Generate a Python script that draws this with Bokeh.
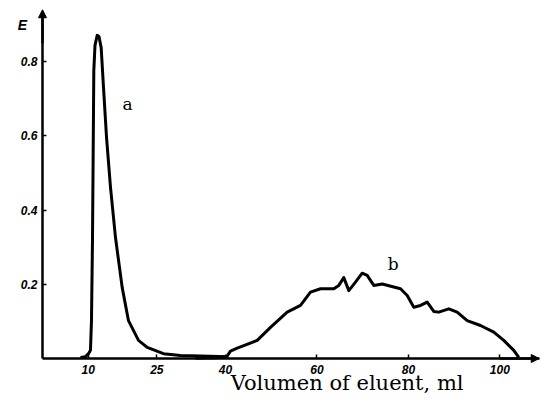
from bokeh.plotting import figure
from bokeh.models import Range1d, FixedTicker, Label, Arrow, NormalHead
from bokeh.embed import file_html
from bokeh.resources import INLINE

# Curve a (elution volume in ml, extinction E)
a_ml = [8.31, 9.40, 10.06, 10.49, 10.71, 10.93, 11.08, 11.22, 11.48, 11.96, 12.35,
        12.83, 13.34, 14.0, 14.87, 15.96, 17.43, 18.8, 20.99, 22.89, 26.45, 30.17,
        34.54, 40.66]
a_E = [0.003, 0.005, 0.013, 0.022, 0.102, 0.318, 0.553, 0.776, 0.844, 0.871, 0.868,
       0.838, 0.730, 0.596, 0.461, 0.326, 0.191, 0.102, 0.049, 0.030, 0.013, 0.008,
       0.007, 0.005]

# Curve b
b_ml = [33.45, 37.82, 40.23, 41.10, 42.57, 44.01, 46.94, 49.85, 53.5, 56.41, 58.59,
        60.78, 63.69, 64.78, 65.87, 66.97, 68.43, 69.9, 70.99, 72.43, 74.27, 78.27,
        79.74, 81.18, 82.64, 84.11, 85.55, 86.64, 88.83, 90.66, 92.85, 95.76, 98.67,
        100.85, 103.04, 104.13]
b_E = [0.001, 0.002, 0.004, 0.020, 0.028, 0.035, 0.049, 0.084, 0.125, 0.143, 0.179,
       0.188, 0.188, 0.197, 0.218, 0.183, 0.206, 0.230, 0.224, 0.197, 0.201, 0.188,
       0.170, 0.138, 0.143, 0.152, 0.127, 0.125, 0.134, 0.125, 0.102, 0.089, 0.071,
       0.049, 0.022, 0.003]

x_ticks = [10, 25, 40, 60, 80, 100]
y_ticks = [0.2, 0.4, 0.6, 0.8]

p = figure(width=540, height=394, output_backend="svg", toolbar_location=None,
           x_range=Range1d(-9.18, 108.88), y_range=Range1d(-0.097, 0.965),
           min_border=0, outline_line_color=None)
p.grid.visible = False
p.background_fill_color = "white"

for ax in (p.xaxis, p.yaxis):
    ax.fixed_location = 0
    ax.axis_line_width = 2.5
    ax.axis_line_color = "black"
    ax.major_tick_in = 4
    ax.major_tick_out = 0
    ax.major_tick_line_width = 1.5
    ax.major_tick_line_color = "black"
    ax.minor_tick_line_color = None
    ax.major_label_text_font = "Liberation Sans"
    ax.major_label_text_font_style = "bold italic"
    ax.major_label_text_font_size = "12px"
    ax.major_label_text_color = "black"

p.xaxis.bounds = (0, 108.6)
p.yaxis.bounds = (0, 0.935)
p.xaxis.ticker = FixedTicker(ticks=x_ticks)
p.yaxis.ticker = FixedTicker(ticks=y_ticks)
p.xaxis.major_label_standoff = 6
p.yaxis.major_label_standoff = 5

p.line(a_ml, a_E, line_width=3, line_color="black", line_join="round")
p.line(b_ml, b_E, line_width=3, line_color="black", line_join="round")

# axis arrows
p.add_layout(Arrow(end=NormalHead(size=8, fill_color="black", line_color="black"),
                   x_start=0, y_start=0.85, x_end=0, y_end=0.94,
                   line_width=2.5, line_color="black"))
p.add_layout(Arrow(end=NormalHead(size=8, fill_color="black", line_color="black"),
                   x_start=100, y_start=0, x_end=108.6, y_end=0,
                   line_width=2.5, line_color="black"))

p.add_layout(Label(x=18.6, y=0.687, text="a", text_font="DejaVu Serif",
                   text_font_size="17px", text_color="black",
                   text_align="center", text_baseline="middle"))
p.add_layout(Label(x=76.7, y=0.256, text="b", text_font="DejaVu Serif",
                   text_font_size="17px", text_color="black",
                   text_align="center", text_baseline="middle"))
p.add_layout(Label(x=-4.4, y=0.898, text="E", text_font="Liberation Sans",
                   text_font_style="bold italic", text_font_size="14px",
                   text_color="black", text_align="center", text_baseline="middle"))
p.add_layout(Label(x=66.6, y=-0.065, text="Volumen of eluent, ml",
                   text_font="DejaVu Serif", text_font_size="21px", text_color="black",
                   text_align="center", text_baseline="middle"))

open("out.html", "w").write(file_html(p, INLINE))
